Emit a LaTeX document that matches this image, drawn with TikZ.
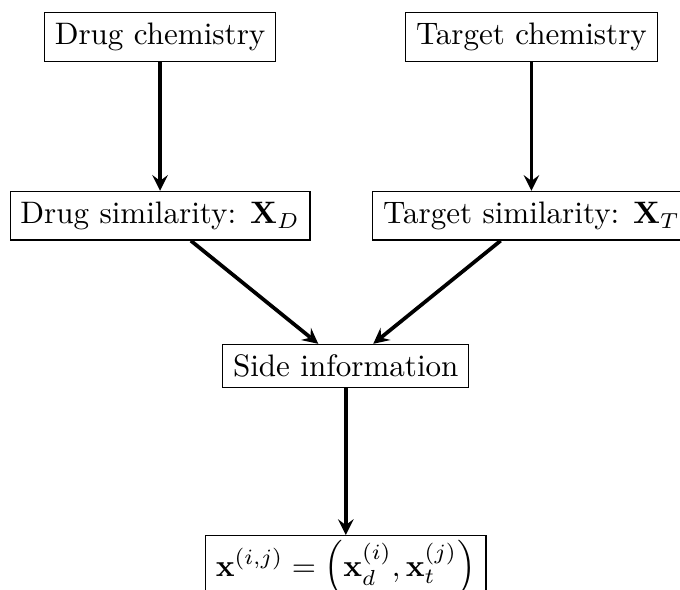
\documentclass[tikz,border=0pt]{standalone}
\usepackage{amsmath}
\begin{document}
\begin{tikzpicture}[box/.style={draw, fill=white}, flow/.style={->, >=stealth, very thick}]
                \useasboundingbox (0,0) rectangle (7.69,-6.67);
                \clip (0,0) rectangle (7.69,-6.67);
                \node[box] (dchem) at (1.81,-0.42) {Drug chemistry};
                \node[box] (tchem) at (6.01,-0.42) {Target chemistry};
                \node[box] (dsim) at (1.81,-2.44) {Drug similarity: $\mathbf{X}_D$};
                \node[box] (tsim) at (6.01,-2.44) {Target similarity: $\mathbf{X}_T$};
                \node[box] (side) at (3.91,-4.14) {Side information};
                \node[box, anchor=north, inner ysep=1.5pt] (feat) at (3.91,-6.05) {$\mathbf{x}^{(i,j)} = \left(\mathbf{x}_d^{(i)}, \mathbf{x}_t^{(j)}\right)$};
                \draw[flow] (dchem) -- (dsim);
                \draw[flow] (tchem) -- (tsim);
                \draw[flow] (dsim) -- (side);
                \draw[flow] (tsim) -- (side);
                \draw[flow] (side) -- (feat);
            \end{tikzpicture}
\end{document}
